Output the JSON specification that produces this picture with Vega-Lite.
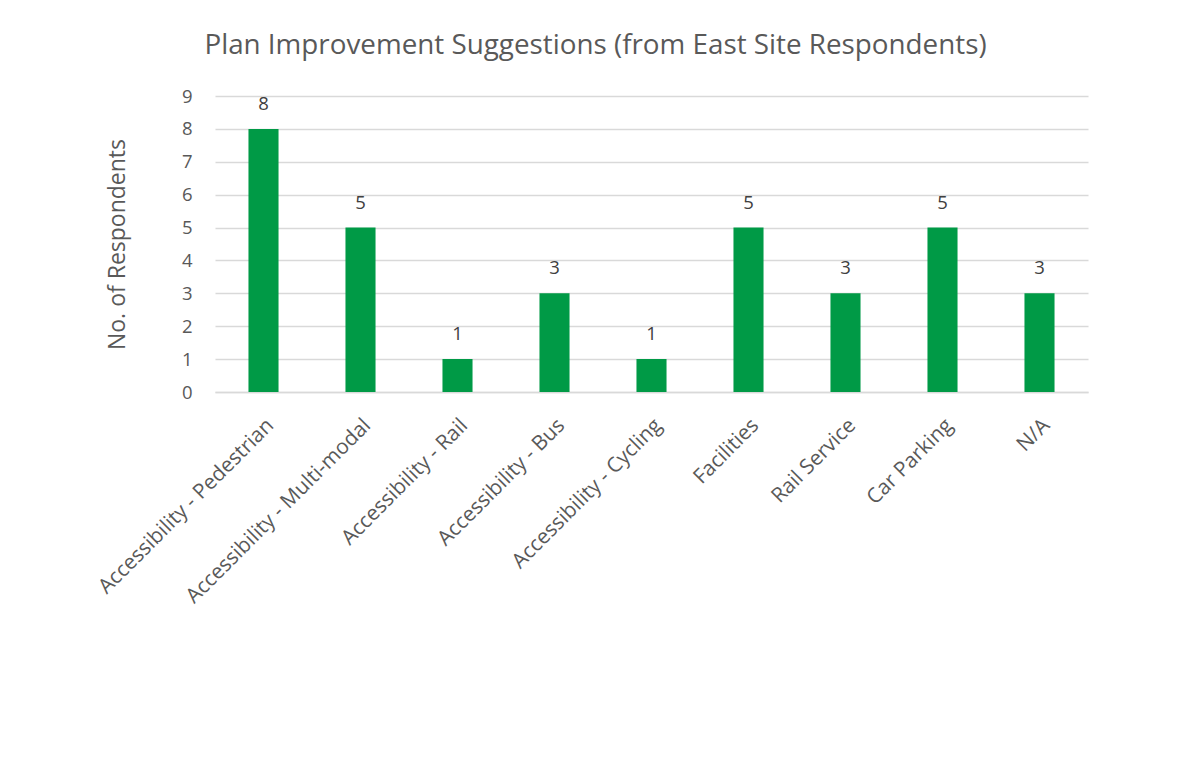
{
  "$schema": "https://vega.github.io/schema/vega-lite/v6.json",
  "autosize": "none",
  "width": 873,
  "height": 296,
  "padding": {"left": 215, "top": 96, "right": 109, "bottom": 370},
  "background": "white",
  "title": {
    "text": "Plan Improvement Suggestions (from East Site Respondents)",
    "font": "Open Sans",
    "fontSize": 27.8,
    "fontWeight": "normal",
    "color": "#595959",
    "anchor": "middle",
    "frame": "group",
    "dx": -56,
    "offset": 27
  },
  "data": {
    "values": [
      {"category": "Accessibility - Pedestrian", "count": 8},
      {"category": "Accessibility - Multi-modal", "count": 5},
      {"category": "Accessibility - Rail", "count": 1},
      {"category": "Accessibility - Bus", "count": 3},
      {"category": "Accessibility - Cycling", "count": 1},
      {"category": "Facilities", "count": 5},
      {"category": "Rail Service", "count": 3},
      {"category": "Car Parking", "count": 5},
      {"category": "N/A", "count": 3}
    ]
  },
  "encoding": {
    "x": {
      "field": "category",
      "type": "nominal",
      "sort": null,
      "scale": {"paddingInner": 0.69, "paddingOuter": 0.345},
      "axis": {
        "title": null,
        "labelAngle": -45,
        "labelFont": "Open Sans",
        "labelFontSize": 20.8,
        "labelColor": "#595959",
        "labelPadding": 23,
        "labelDx": -5,
        "ticks": false,
        "domainColor": "#D9D9D9",
        "domainWidth": 1.5,
        "labelLimit": 400
      }
    },
    "y": {
      "field": "count",
      "type": "quantitative",
      "scale": {"domain": [0, 9]},
      "axis": {
        "title": "No. of Respondents",
        "titleFont": "Open Sans",
        "titleFontSize": 23,
        "titleFontWeight": "normal",
        "titleColor": "#595959",
        "titlePadding": 52,
        "values": [0, 1, 2, 3, 4, 5, 6, 7, 8, 9],
        "labelFont": "Open Sans",
        "labelFontSize": 18.5,
        "labelColor": "#595959",
        "labelPadding": 23,
        "ticks": false,
        "domain": false,
        "gridColor": "#D9D9D9",
        "gridWidth": 1.5
      }
    }
  },
  "layer": [
    {"mark": {"type": "bar", "color": "#009A46"}},
    {
      "mark": {
        "type": "text",
        "baseline": "bottom",
        "dy": -15,
        "font": "Open Sans",
        "fontSize": 18.5,
        "color": "#404040"
      },
      "encoding": {"text": {"field": "count", "type": "quantitative"}}
    }
  ],
  "config": {"view": {"stroke": null}}
}
